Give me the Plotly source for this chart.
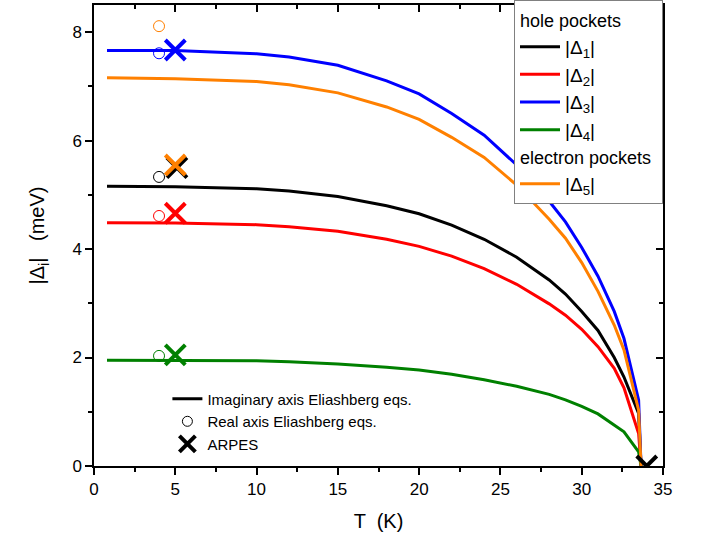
import plotly.graph_objects as go

# ---- data ----
T = [0.8, 5, 10, 12, 15, 18, 20, 22, 24, 26, 28, 29, 30, 31, 32, 32.6, 33.5, 33.65]
gap1 = [5.16, 5.15, 5.11, 5.07, 4.97, 4.80, 4.65, 4.44, 4.18, 3.85, 3.43, 3.17, 2.85, 2.50, 2.00, 1.64, 0.97, 0.0]
gap2 = [4.485, 4.48, 4.45, 4.41, 4.33, 4.18, 4.05, 3.87, 3.64, 3.35, 2.99, 2.78, 2.52, 2.20, 1.80, 1.44, 0.60, 0.0]
gap3 = [7.66, 7.66, 7.60, 7.54, 7.39, 7.10, 6.86, 6.50, 6.10, 5.55, 4.88, 4.50, 4.03, 3.50, 2.85, 2.35, 1.22, 0.0]
gap4 = [1.95, 1.95, 1.94, 1.92, 1.88, 1.82, 1.77, 1.69, 1.59, 1.47, 1.32, 1.22, 1.10, 0.96, 0.76, 0.63, 0.26, 0.0]
gap5 = [7.16, 7.14, 7.09, 7.03, 6.88, 6.62, 6.39, 6.06, 5.69, 5.18, 4.55, 4.20, 3.75, 3.22, 2.60, 2.14, 1.03, 0.0]

# real-axis Eliashberg values (open circles) at T = 4 K
real_T = 4.0
real_vals = {"1": 5.33, "2": 4.61, "3": 7.61, "4": 2.03, "5": 8.11}

# ARPES values (crosses)
arpes_T = {"1": 5.1, "2": 5.0, "3": 5.0, "4": 5.0, "5": 5.0}
arpes_vals = {"1": 5.50, "2": 4.66, "3": 7.67, "4": 2.05, "5": 5.55}
arpes_tc_T = [34.0]
arpes_tc_val = [0.0]

colors = {"1": "#000000", "2": "#FF0000", "3": "#0000FF", "4": "#008000", "5": "#FF8000"}
gaps = {"1": gap1, "2": gap2, "3": gap3, "4": gap4, "5": gap5}

FONT = "Liberation Sans, Arial, sans-serif"

fig = go.Figure()

# curves (legend 1 with group titles)
for k in ["1", "2", "3", "4", "5"]:
    grp = "hole" if k != "5" else "electron"
    fig.add_trace(go.Scatter(
        x=T, y=gaps[k], mode="lines",
        line=dict(color=colors[k], width=3),
        name="|Δ<sub>%s</sub>|" % k,
        legendgroup=grp,
        legendgrouptitle=dict(text="hole pockets" if grp == "hole" else "electron pockets",
                              font=dict(size=18, color="black", family=FONT)),
        legend="legend",
    ))

# open circles
for k in ["1", "2", "3", "4", "5"]:
    fig.add_trace(go.Scatter(
        x=[real_T], y=[real_vals[k]], mode="markers",
        marker=dict(symbol="circle-open", size=11, color=colors[k], line=dict(width=1, color=colors[k])),
        showlegend=False,
    ))

# ARPES crosses
for k in ["1", "2", "3", "4", "5"]:
    fig.add_trace(go.Scatter(
        x=[arpes_T[k]], y=[arpes_vals[k]], mode="markers",
        marker=dict(symbol="x-thin", size=20, color=colors[k], line=dict(width=4, color=colors[k])),
        showlegend=False,
    ))
fig.add_trace(go.Scatter(
    x=arpes_tc_T, y=arpes_tc_val, mode="markers",
    marker=dict(symbol="x-thin", size=20, color="black", line=dict(width=4, color="black")),
    showlegend=False,
))

# legend 2 entries
fig.add_trace(go.Scatter(x=[None], y=[None], mode="lines", line=dict(color="black", width=3),
                         name="Imaginary axis Eliashberg eqs.", legend="legend2"))
fig.add_trace(go.Scatter(x=[None], y=[None], mode="markers",
                         marker=dict(symbol="circle-open", size=10, color="black", line=dict(width=1, color="black")),
                         name="Real axis Eliashberg eqs.", legend="legend2"))
fig.add_trace(go.Scatter(x=[None], y=[None], mode="markers",
                         marker=dict(symbol="x-thin", size=16, color="black", line=dict(width=4, color="black")),
                         name="ARPES", legend="legend2"))

# dummy trace for mirrored (inside-tick) axes
fig.add_trace(go.Scatter(x=[None], y=[None], xaxis="x2", yaxis="y2", showlegend=False))

axis_common = dict(showgrid=False, zeroline=False, linecolor="black", linewidth=1.5,
                   tickcolor="black", tickwidth=1.5, automargin=False)

fig.update_layout(
    width=718, height=543,
    margin=dict(l=94, r=55, t=5, b=77, autoexpand=False),
    paper_bgcolor="white", plot_bgcolor="white",
    font=dict(family=FONT, size=17, color="black"),
    xaxis=dict(range=[0, 35], tickvals=[0, 5, 10, 15, 20, 25, 30, 35], ticks="outside", ticklen=7,
               minor=dict(dtick=2.5, tick0=0, ticks="outside", ticklen=4, tickcolor="black", tickwidth=1.5),
               title=dict(text="T  (K)", font=dict(size=20), standoff=16),
               showline=True, **axis_common),
    yaxis=dict(range=[0, 8.5], tickvals=[0, 2, 4, 6, 8], ticks="outside", ticklen=7,
               minor=dict(dtick=1, tick0=0, ticks="outside", ticklen=4, tickcolor="black", tickwidth=1.5),
               title=dict(text="|Δ<sub>i</sub>|   (meV)", font=dict(size=20), standoff=22),
               showline=True, **axis_common),
    xaxis2=dict(range=[0, 35], overlaying="x", side="top", anchor="y", tickvals=[0, 5, 10, 15, 20, 25, 30, 35],
                ticks="inside", ticklen=7, showticklabels=False,
                minor=dict(dtick=2.5, tick0=0, ticks="inside", ticklen=4, tickcolor="black", tickwidth=1.5),
                showline=True, **axis_common),
    yaxis2=dict(range=[0, 8.5], overlaying="y", side="right", anchor="x", tickvals=[0, 2, 4, 6, 8],
                ticks="inside", ticklen=7, showticklabels=False,
                minor=dict(dtick=1, tick0=0, ticks="inside", ticklen=4, tickcolor="black", tickwidth=1.5),
                showline=True, **axis_common),
    legend=dict(x=1.0, xanchor="right", y=1.01, yanchor="top", bgcolor="white",
                bordercolor="#808080", borderwidth=1, font=dict(size=19, family=FONT),
                tracegroupgap=0, traceorder="grouped", itemwidth=40),
    legend2=dict(x=0.129, xanchor="left", y=0.181, yanchor="top", bgcolor="rgba(0,0,0,0)",
                 borderwidth=0, font=dict(size=15, family=FONT), tracegroupgap=0),
    showlegend=True,
)

fig.write_html("out.html", config={"displayModeBar": False},
               post_script="document.body.style.margin='0px';document.body.style.padding='0px';")
